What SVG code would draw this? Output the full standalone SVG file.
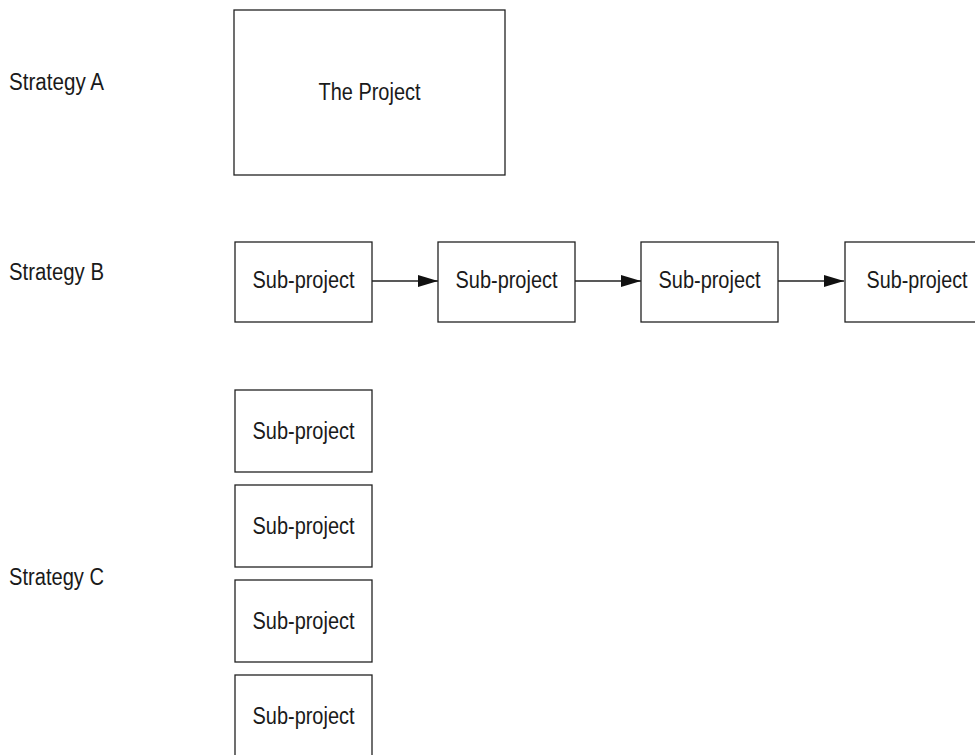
<svg xmlns="http://www.w3.org/2000/svg" width="975" height="755" viewBox="0 0 975 755">
<defs>
<style>
.box{fill:#fff;stroke:#222;stroke-width:1.3}
.t{font-family:"Liberation Sans Narrow","Liberation Sans",Arial,sans-serif;font-size:23px;fill:#1a1a1a;text-anchor:middle;dominant-baseline:central}
.lbl{font-family:"Liberation Sans Narrow","Liberation Sans",Arial,sans-serif;font-size:23px;fill:#1a1a1a;dominant-baseline:central}
.c{stroke:#222;stroke-width:1.3;fill:none;marker-end:url(#ah)}
</style>
<marker id="ah" markerUnits="userSpaceOnUse" markerWidth="20" markerHeight="12" refX="20" refY="6" orient="auto">
<path d="M0,0 L20,6 L0,12 Z" fill="#111"/>
</marker>
</defs>
<rect width="975" height="755" fill="#fff"/>
<g id="labels">
<text class="lbl" x="9" y="82" textLength="95" lengthAdjust="spacingAndGlyphs">Strategy A</text>
<text class="lbl" x="9" y="272" textLength="95" lengthAdjust="spacingAndGlyphs">Strategy B</text>
<text class="lbl" x="9" y="577" textLength="95" lengthAdjust="spacingAndGlyphs">Strategy C</text>
</g>
<g id="project">
<rect class="box" x="234" y="10" width="271" height="165"/>
<text class="t" x="369.5" y="92" textLength="102" lengthAdjust="spacingAndGlyphs">The Project</text>
</g>
<g id="connectors">
<line class="c" x1="372" y1="281" x2="438" y2="281"/>
<line class="c" x1="575" y1="281" x2="641" y2="281"/>
<line class="c" x1="778" y1="281" x2="844" y2="281"/>
</g>
<g id="b1"><rect class="box" x="235" y="242" width="137" height="80"/><text class="t" x="303.5" y="280" textLength="102" lengthAdjust="spacingAndGlyphs">Sub-project</text></g>
<g id="b2"><rect class="box" x="438" y="242" width="137" height="80"/><text class="t" x="506.5" y="280" textLength="102" lengthAdjust="spacingAndGlyphs">Sub-project</text></g>
<g id="b3"><rect class="box" x="641" y="242" width="137" height="80"/><text class="t" x="709.5" y="280" textLength="102" lengthAdjust="spacingAndGlyphs">Sub-project</text></g>
<g id="b4"><rect class="box" x="845" y="242" width="137" height="80"/><text class="t" x="917" y="280" textLength="101" lengthAdjust="spacingAndGlyphs">Sub-project</text></g>
<g id="c1"><rect class="box" x="235" y="390" width="137" height="82"/><text class="t" x="303.5" y="431" textLength="102" lengthAdjust="spacingAndGlyphs">Sub-project</text></g>
<g id="c2"><rect class="box" x="235" y="485" width="137" height="82"/><text class="t" x="303.5" y="526" textLength="102" lengthAdjust="spacingAndGlyphs">Sub-project</text></g>
<g id="c3"><rect class="box" x="235" y="580" width="137" height="82"/><text class="t" x="303.5" y="621" textLength="102" lengthAdjust="spacingAndGlyphs">Sub-project</text></g>
<g id="c4"><rect class="box" x="235" y="675" width="137" height="82"/><text class="t" x="303.5" y="716" textLength="102" lengthAdjust="spacingAndGlyphs">Sub-project</text></g>
</svg>
